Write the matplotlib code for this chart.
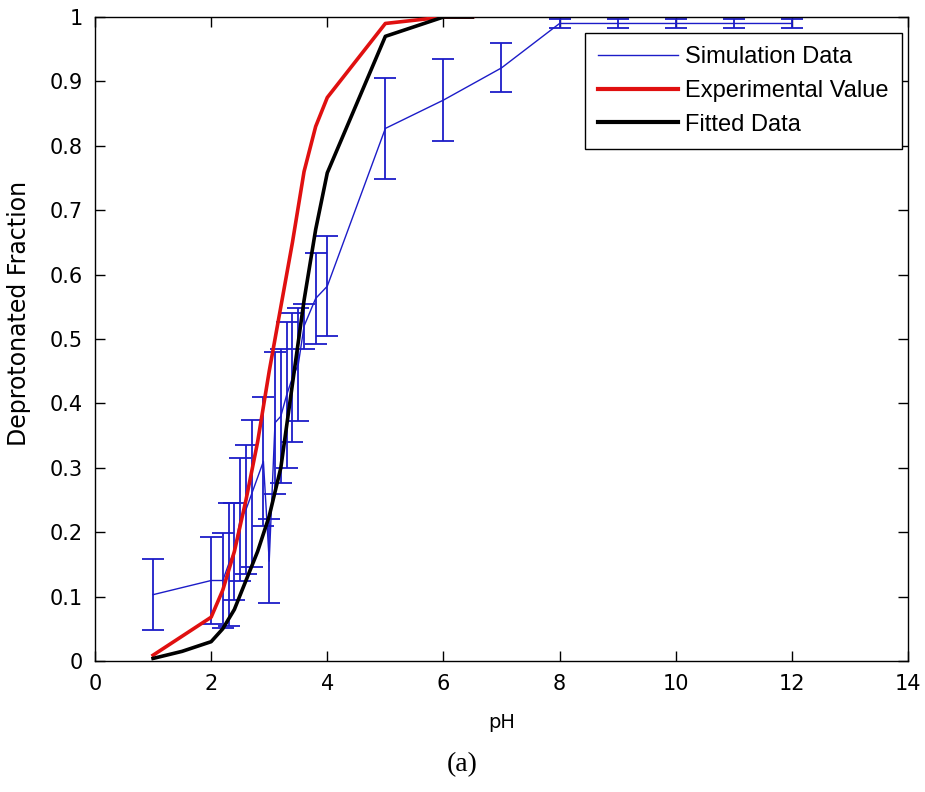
import matplotlib
matplotlib.use("Agg")
import matplotlib.pyplot as plt
from matplotlib.lines import Line2D

# ---------------- data ----------------
sim_ph = [1, 2, 2.2, 2.3, 2.4, 2.5, 2.6, 2.7, 2.9, 3.0, 3.1, 3.2, 3.3, 3.4, 3.5, 3.6, 3.8, 4.0,
          5, 6, 7, 8, 9, 10, 11, 12]
sim_frac = [0.103, 0.125, 0.125, 0.15, 0.17, 0.22, 0.235, 0.26, 0.31, 0.155, 0.37, 0.38, 0.413,
            0.44, 0.46, 0.52, 0.563, 0.582, 0.827, 0.871, 0.921, 0.99, 0.99, 0.99, 0.99, 0.99]
sim_err = [0.055, 0.068, 0.074, 0.095, 0.075, 0.095, 0.10, 0.114, 0.10, 0.065, 0.11, 0.104, 0.113,
           0.10, 0.088, 0.035, 0.07, 0.078, 0.079, 0.064, 0.038, 0.007, 0.007, 0.007, 0.007, 0.007]

exp_ph = [1, 2, 2.2, 2.4, 2.6, 2.8, 3.0, 3.2, 3.4, 3.6, 3.8, 4, 5, 6, 6.5]
exp_frac = [0.009, 0.068, 0.11, 0.17, 0.25, 0.34, 0.45, 0.55, 0.65, 0.76, 0.83, 0.875, 0.99, 1.0, 1.0]

fit_ph = [1, 1.5, 2, 2.2, 2.4, 2.6, 2.8, 3.0, 3.2, 3.4, 3.6, 3.8, 4, 5, 6, 6.5]
fit_frac = [0.004, 0.015, 0.03, 0.05, 0.08, 0.125, 0.17, 0.225, 0.30, 0.43, 0.56, 0.67, 0.758,
            0.97, 1.0, 1.0]

plt.rcParams['font.family'] = ['DejaVu Sans']

fig = plt.figure(figsize=(9.25, 7.92), dpi=100)
ax = fig.add_axes([0.1027, 0.1654, 0.8789, 0.8131])

blue = '#1c1cc8'
red = '#e01010'
ax.errorbar(sim_ph, sim_frac, yerr=sim_err, color=blue, lw=1.0, elinewidth=1.3,
            capsize=8, capthick=1.3, zorder=2)
ax.plot(exp_ph, exp_frac, color=red, lw=2.6, zorder=3)
ax.plot(fit_ph, fit_frac, color='black', lw=2.6, zorder=4)

ax.set_xlim(0, 14)
ax.set_ylim(0, 1)
ax.set_xticks(range(0, 15, 2))
ax.set_yticks([i / 10 for i in range(11)])
ax.set_yticklabels(['0', '0.1', '0.2', '0.3', '0.4', '0.5', '0.6', '0.7', '0.8', '0.9', '1'])
ax.tick_params(direction='in', top=True, right=True, length=7, labelsize=15, width=1, pad=9)
for s in ax.spines.values():
    s.set_linewidth(1)
ax.set_xlabel('pH', fontsize=14, labelpad=14)
ax.set_ylabel('Deprotonated Fraction', fontsize=17)
ax.yaxis.set_label_coords(-0.079, 0.54)

handles = [Line2D([], [], color=blue, lw=1),
           Line2D([], [], color=red, lw=3),
           Line2D([], [], color='black', lw=3)]
leg = ax.legend(handles, ['Simulation Data', 'Experimental Value', 'Fitted Data'],
                loc='upper right', bbox_to_anchor=(0.9926, 0.975),
                prop={'family': 'Liberation Sans', 'size': 17},
                fancybox=False, edgecolor='black', framealpha=1, handlelength=3.4,
                borderpad=0.55, labelspacing=0.5, handletextpad=0.3, borderaxespad=0)
leg.get_frame().set_linewidth(1)

fig.text(0.5, 0.034, '(a)', ha='center', va='center', fontsize=20, family='Liberation Serif')

fig.savefig('out.png', dpi=100)
